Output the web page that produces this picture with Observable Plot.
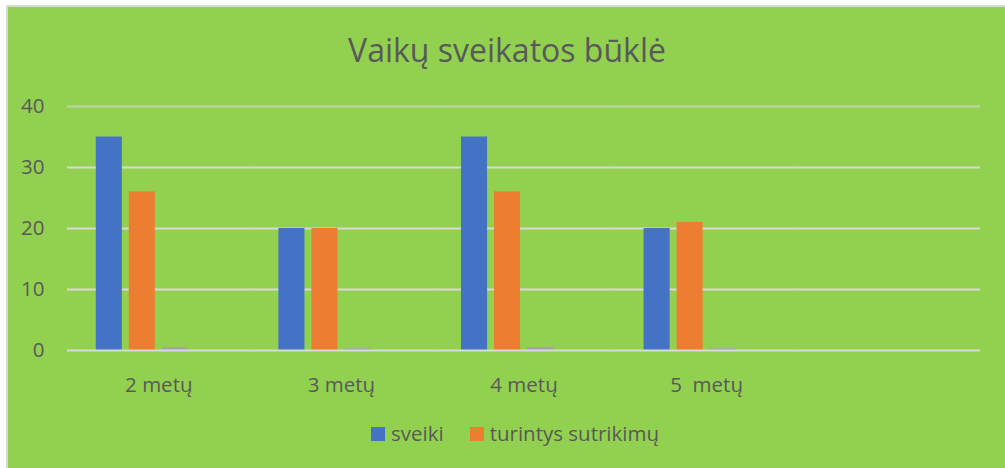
<!DOCTYPE html>
<html>
<head>
<meta charset="utf-8">
<script src="https://cdn.jsdelivr.net/npm/d3@7"></script>
<script src="https://cdn.jsdelivr.net/npm/@observablehq/plot@0.6"></script>
<style>
  html, body { margin: 0; padding: 0; background: #ffffff; }
  #frame {
    position: absolute; left: 6px; top: 5px; width: 999px; height: 463px;
    box-sizing: border-box; background: #92d050;
    border-left: 2px solid #d9d9d9; border-top: 2px solid #d9d9d9;
  }
  #title {
    position: absolute; left: 0; top: 34px; width: 1014px; text-align: center;
    font-family: "Open Sans", sans-serif; font-size: 32px; line-height: 1; color: #595959;
  }
  #chart { position: absolute; left: 0; top: 80px; }
  #legend {
    position: absolute; left: 0; top: 423px; width: 1030px;
    display: flex; justify-content: center; align-items: center;
    font-family: "Open Sans", sans-serif; font-size: 20.5px; line-height: 1; color: #595959;
  }
  .item { display: flex; align-items: center; margin: 0 13px; }
  .sw { width: 14px; height: 14px; margin-right: 6px; margin-top: 1px; }
</style>
</head>
<body>
<div id="frame"></div>
<div id="title">Vaikų sveikatos būklė</div>
<div id="chart"></div>
<div id="legend"></div>
<script>
const categories = ["2 metų", "3 metų", "4 metų", "5  metų", ""];
const series = ["sveiki", "turintys sutrikimų", "Series 3", "Series 4"];
const legendSeries = ["sveiki", "turintys sutrikimų"];
const sveiki = [35, 20, 35, 20];
const turintys = [26, 20, 26, 21];
const series3 = [0.5, 0.3, 0.5, 0.3];
const colors = ["#4472c4", "#ed7d31", "#a5a5a5", "#ffc000"];
const yTicks = [0, 10, 20, 30, 40];
const gridTicks = [10, 20, 30];

const data = [];
categories.slice(0, 4).forEach((c, i) => {
  data.push({category: c, series: series[0], value: sveiki[i]});
  data.push({category: c, series: series[1], value: turintys[i]});
  data.push({category: c, series: series[2], value: series3[i]});
});
// empty fifth category (present on the axis, no values)
data.push({category: categories[4], series: series[0], value: 0});

const chart = Plot.plot({
  width: 1005,
  height: 330,
  marginTop: 26,
  marginBottom: 60,
  marginLeft: 67,
  marginRight: 25,
  style: {background: "transparent", fontFamily: "Open Sans, sans-serif", fontSize: "20.5px", color: "#595959", whiteSpace: "pre"},
  fx: {domain: categories, padding: 0, round: false, label: null},
  x: {domain: series, paddingInner: 0.21, paddingOuter: 0.872, round: false, axis: null},
  y: {domain: [0, 40], axis: null},
  color: {domain: series, range: colors},
  marks: [
    Plot.ruleY(gridTicks, {stroke: "#d9d9d9", strokeWidth: 2}),
    Plot.ruleY([40], {stroke: "#d9d9d9", strokeWidth: 3, strokeOpacity: 0.45}),
    Plot.barY(data, {fx: "category", x: "series", y: "value", fill: "series"}),
    Plot.ruleY([0], {stroke: "#d9d9d9", strokeWidth: 2}),
    Plot.axisY({ticks: yTicks, tickSize: 0, tickPadding: 23, label: null, fill: "#595959"}),
    Plot.axisFx({anchor: "bottom", tickSize: 0, tickPadding: 27, label: null, fill: "#595959"})
  ]
});
document.getElementById("chart").appendChild(chart);

const legend = d3.select("#legend");
legendSeries.forEach(s => {
  const it = legend.append("div").attr("class", "item");
  it.append("div").attr("class", "sw").style("background", colors[series.indexOf(s)]);
  it.append("span").text(s);
});
</script>
</body>
</html>
